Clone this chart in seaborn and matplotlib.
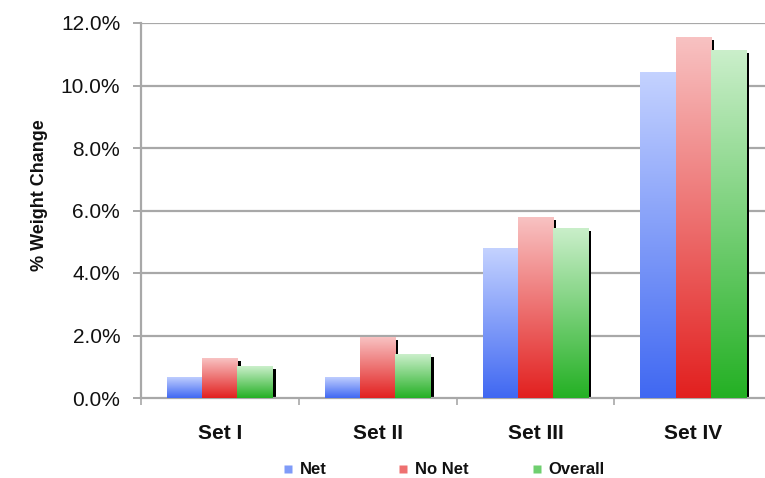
import numpy as np
import pandas as pd
import matplotlib
matplotlib.use("Agg")
import matplotlib.pyplot as plt
import matplotlib.patheffects as pe
from matplotlib.colors import LinearSegmentedColormap
from matplotlib.lines import Line2D
import seaborn as sns

# ---- data ----
categories = ["Set I", "Set II", "Set III", "Set IV"]
series = ["Net", "No Net", "Overall"]
net = [0.68, 0.68, 4.80, 10.42]
no_net = [1.27, 1.94, 5.79, 11.55]
overall = [1.01, 1.40, 5.45, 11.14]
yticks = [0, 2, 4, 6, 8, 10, 12]

top_colors = ["#c4d2ff", "#f8c2c2", "#cbefcb"]
bottom_colors = ["#4068f2", "#e2201f", "#24b024"]
mid_colors = ["#7f9bf8", "#ee7070", "#6fcf6f"]

df = pd.DataFrame({
    "Set": np.repeat(categories, 3),
    "Series": series * 4,
    "Value": [v for trip in zip(net, no_net, overall) for v in trip],
})

sns.set_theme(style="white")
plt.rcParams["font.family"] = ["Liberation Sans", "DejaVu Sans"]

fig = plt.figure(figsize=(7.65, 4.78), dpi=100)
ax = fig.add_axes([141 / 765, 1 - 398 / 478, (772 - 141) / 765, (398 - 23) / 478])

sns.barplot(data=df, x="Set", y="Value", hue="Series", order=categories,
            hue_order=series, palette=mid_colors, width=0.67, gap=0,
            saturation=1, legend=False, ax=ax, zorder=2)

# gradient fill + drop shadow for each bar
grad = np.linspace(0, 1, 256).reshape(-1, 1)
for cont, top, bot in zip(ax.containers, top_colors, bottom_colors):
    cmap = LinearSegmentedColormap.from_list("g", [bot, top])
    for bar in cont:
        bar.set_edgecolor("none")
        bar.set_linewidth(0)
        bar.set_path_effects([pe.SimplePatchShadow(offset=(2.2, -2.2),
                                                   shadow_rgbFace="black",
                                                   alpha=1.0),
                              pe.Normal()])
        x0, y0 = bar.get_x(), bar.get_y()
        w, h = bar.get_width(), bar.get_height()
        im = ax.imshow(grad, cmap=cmap, aspect="auto", origin="lower",
                       extent=[x0, x0 + w, y0, y0 + h], zorder=3,
                       interpolation="bilinear")
        im.set_clip_path(bar)

ax.set_xlim(-0.5, 3.5)
ax.set_ylim(0, 12)

# grid and axes styling
ax.set_yticks(yticks)
ax.set_yticklabels([f"{t:.1f}%" for t in yticks], fontsize=15)
for t in yticks[1:]:
    ax.axhline(t, color="#a8a8a8", lw=1.6, zorder=1)
for side in ["top", "right"]:
    ax.spines[side].set_visible(False)
for side in ["left", "bottom"]:
    ax.spines[side].set_color("#a8a8a8")
    ax.spines[side].set_linewidth(1.6)

ax.tick_params(axis="y", which="major", direction="out", length=6, width=1.4,
               color="#a8a8a8", pad=9, left=True, labelcolor="#111111")
ax.set_xticks(range(len(categories)))
ax.set_xticklabels(categories, fontsize=15, fontweight="bold", color="#111111")
ax.tick_params(axis="x", which="major", length=0, pad=19)
ax.set_xticks([-0.5, 0.5, 1.5, 2.5, 3.5], minor=True)
ax.tick_params(axis="x", which="minor", direction="out", length=5, width=1.2,
               color="#a8a8a8", bottom=True)
ax.set_xlabel("")
ax.set_ylabel("")

fig.text(40 / 765, 1 - 195 / 478, "% Weight Change", rotation=90,
         ha="center", va="center", fontsize=13, fontweight="bold",
         color="#111111")

# legend: one entry per legend, placed like the reference
legend_x = [283, 398, 532]
for name, c, lx in zip(series, mid_colors, legend_x):
    h = Line2D([], [], marker="s", linestyle="none", markersize=5.5,
               markerfacecolor=c, markeredgecolor="none")
    leg = fig.legend([h], [name], loc="center left",
                     bbox_to_anchor=(lx / 765, 1 - 470 / 478), frameon=False,
                     prop={"size": 12, "weight": "bold"}, handlelength=0.6,
                     handletextpad=0.4, borderpad=0, borderaxespad=0)
    for t in leg.get_texts():
        t.set_color("#111111")

fig.savefig("out.png", dpi=100)
